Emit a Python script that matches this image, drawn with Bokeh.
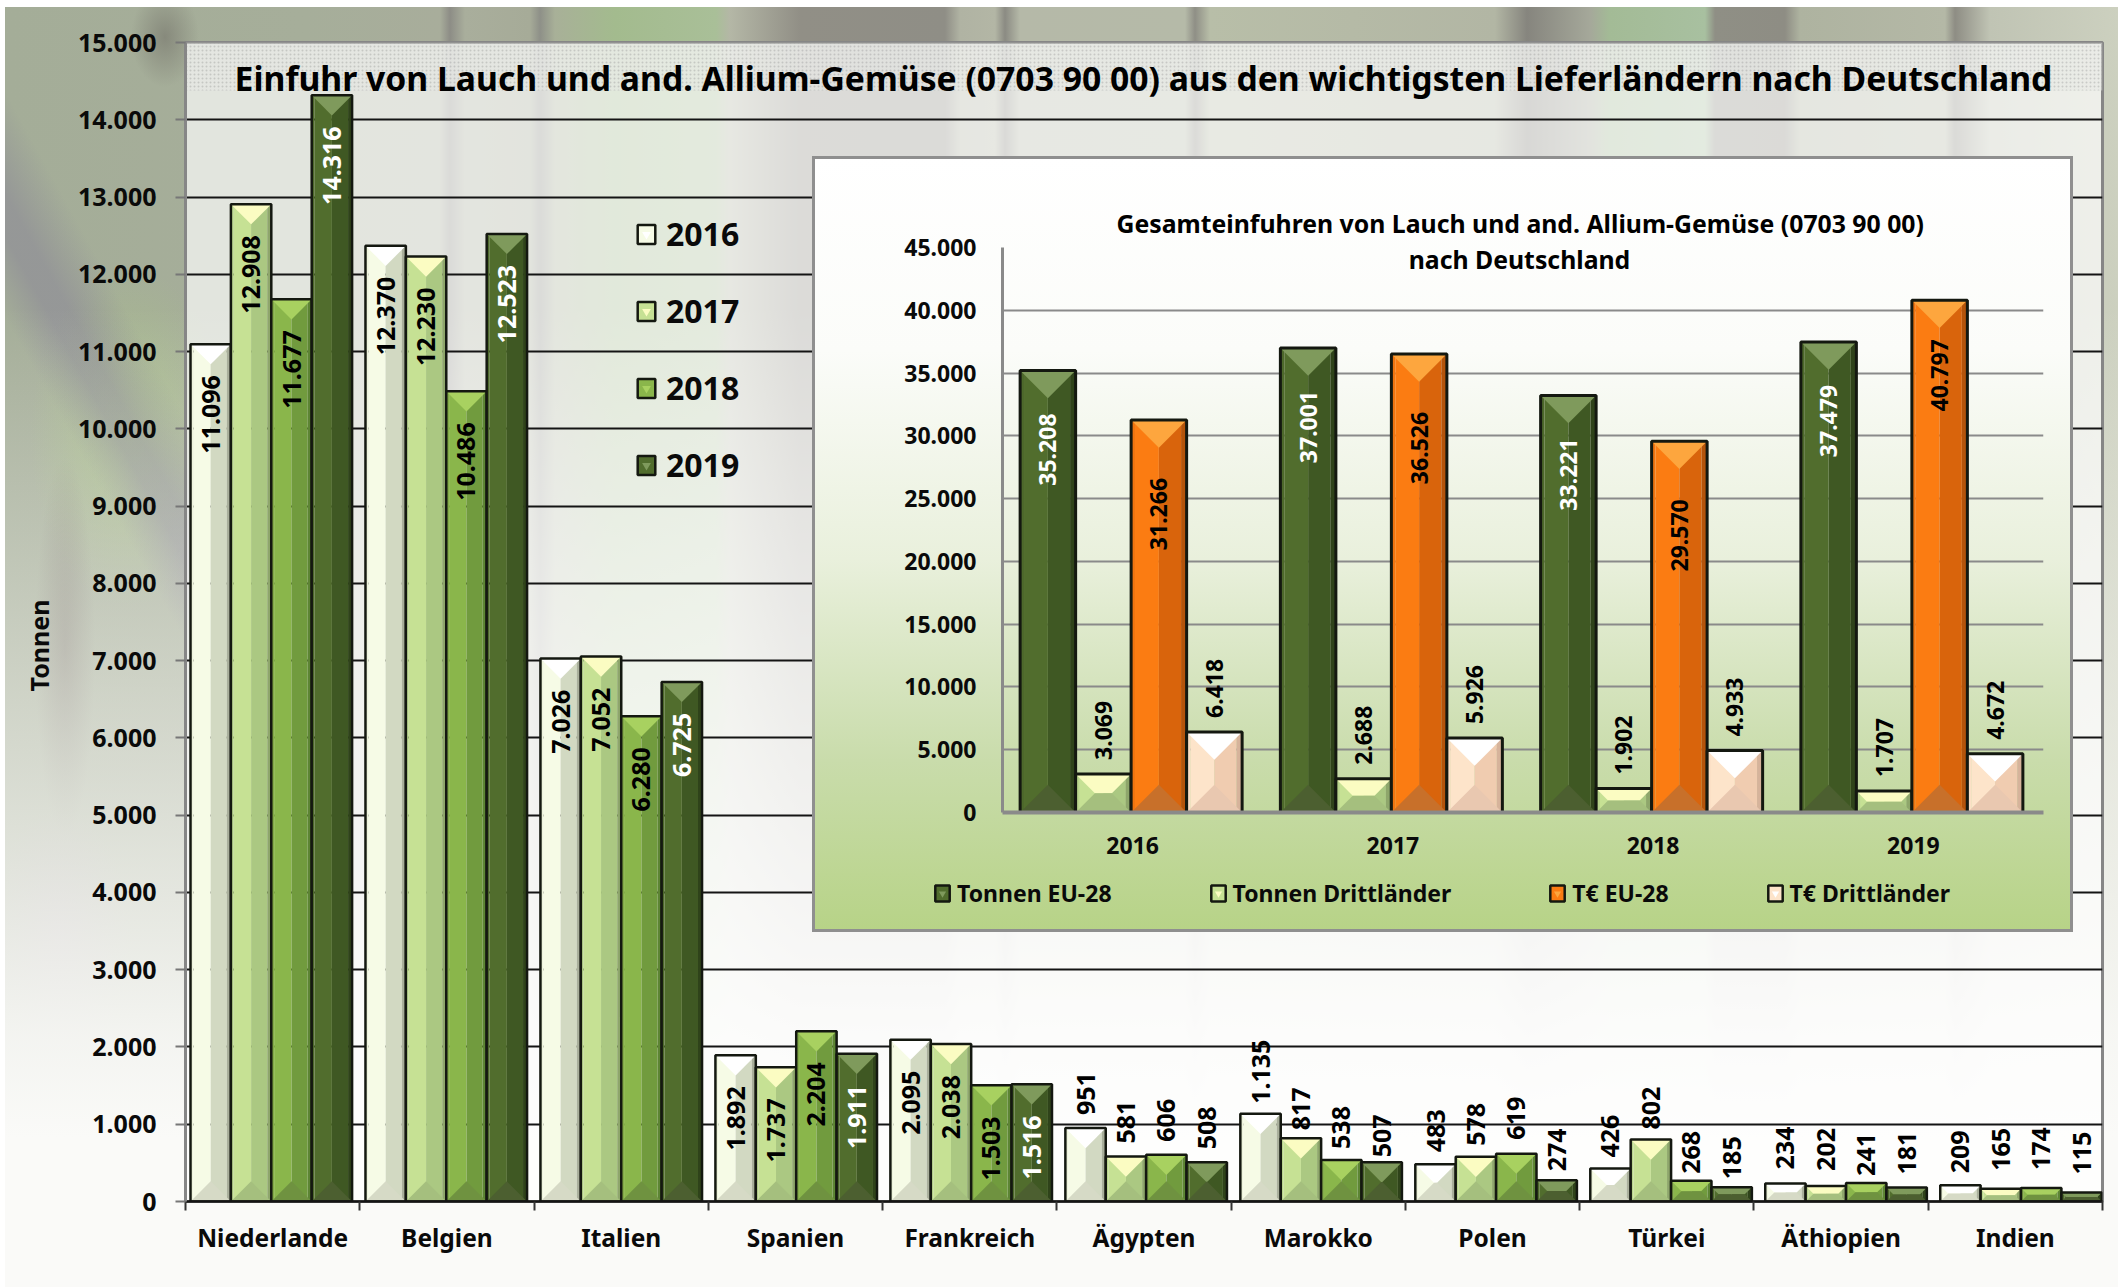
from bokeh.plotting import figure
from bokeh.layouts import column
from bokeh.embed import file_html
from bokeh.resources import INLINE
from bokeh.models import FixedTicker, Legend, LegendItem, Label, ColumnDataSource, Title
from bokeh.core.properties import value
import math

# ---------- data ----------
countries = ["Niederlande", "Belgien", "Italien", "Spanien", "Frankreich", "Ägypten",
             "Marokko", "Polen", "Türkei", "Äthiopien", "Indien"]
y2016 = [11096, 12370, 7026, 1892, 2095, 951, 1135, 483, 426, 234, 209]
y2017 = [12908, 12230, 7052, 1737, 2038, 581, 817, 578, 802, 202, 165]
y2018 = [11677, 10486, 6280, 2204, 1503, 606, 538, 619, 268, 241, 174]
y2019 = [14316, 12523, 6725, 1911, 1516, 508, 507, 274, 185, 181, 115]
years = ["2016", "2017", "2018", "2019"]
tonnen_eu = [35208, 37001, 33221, 37479]
tonnen_dritt = [3069, 2688, 1902, 1707]
teuro_eu = [31266, 36526, 29570, 40797]
teuro_dritt = [6418, 5926, 4933, 4672]
main_title = "Einfuhr von Lauch und and. Allium-Gemüse (0703 90 00) aus den wichtigsten Lieferländern nach Deutschland"
inset_title = ["Gesamteinfuhren von Lauch und and. Allium-Gemüse (0703 90 00)", "nach Deutschland"]

# ---------- styles: edgeL, left, right, edgeR, top, bottom ----------
PAL = {
    "2016": ("#eef4dc", "#f6fbe6", "#d2d9c2", "#a9af9b", "#ffffff", "#d6dac6"),
    "2017": ("#b9d58c", "#c6e194", "#abc882", "#8ea66b", "#fbfcc2", "#a5bf7e"),
    "2018": ("#83aa47", "#8ab64b", "#719b3e", "#5d8534", "#a8d160", "#6f9240"),
    "2019": ("#4d682b", "#516d2d", "#3f5823", "#2f431a", "#7f9a5c", "#4c5f30"),
    "oe":   ("#f07510", "#fb7c12", "#d9640c", "#b4540b", "#fda63e", "#c8702a"),
    "od":   ("#fbe0c6", "#fde4ca", "#f0ccb0", "#d6b39b", "#ffffff", "#e9c8b0"),
}
FONT = "Noto Sans"
OUT = "#141810"
GRID_I = "#8a8a8a"
# gap in pixels between a short bar and its label
LABEL_GAP = {951: 13, 581: 13, 606: 13, 508: 13, 1135: 10, 817: 8, 538: 11, 507: 5, 483: 12, 578: 11, 619: 14,
             274: 9, 426: 11, 802: 10, 268: 7, 185: 8, 234: 14, 202: 15, 241: 7, 181: 13, 209: 12, 165: 18,
             174: 18, 115: 18}


def de(v):
    return f"{v:,}".replace(",", ".")


def draw_bars(p, xs, vals, w_u, pal, per_px_x, per_px_y, line_w=2.5):
    """Bevelled bars. xs are left edges (data), vals heights (data)."""
    c = PAL[pal]
    w_px = w_u / per_px_x
    stops = [(0, .07, c[0]), (.07, .5, c[1]), (.5, .9, c[2]), (.9, 1, c[3])]
    body = None
    for i, (a, b, col) in enumerate(stops):
        r = p.quad(left=[x + a * w_u for x in xs], right=[x + b * w_u for x in xs],
                   bottom=[0] * len(xs), top=vals, fill_color=col, line_color=None)
        if i == 1:
            body = r
    tx, ty, bx, by = [], [], [], []
    for x, v in zip(xs, vals):
        h_px = v / per_px_y
        d = min(w_px / 2, h_px / 2)
        dx, dy = d * per_px_x, d * per_px_y
        tx.append([x, x + w_u, x + w_u - dx, x + dx])
        ty.append([v, v, v - dy, v - dy])
        bx.append([x, x + w_u, x + w_u - dx, x + dx])
        by.append([0, 0, dy, dy])
    p.patches(tx, ty, fill_color=c[4], line_color=None)
    p.patches(bx, by, fill_color=c[5], line_color=None)
    outline = p.quad(left=xs, right=[x + w_u for x in xs], bottom=[0] * len(xs), top=vals,
                     fill_color=None, line_color=OUT, line_width=line_w)
    tri = p.scatter(x=xs, y=vals, size=0.01, marker="inverted_triangle", fill_color=c[4], line_color=None)
    return [body, outline, tri]


# ---------- main chart ----------
W, H = 2118, 1287
L, R, T, B = 185, 2102, 42, 1201       # frame in page pixels
px_x = len(countries) / (R - L)
px_y = 15000 / (B - T)

bg = ("linear-gradient(to bottom, rgba(250,250,246,0) 0px, rgba(250,250,246,0) 300px, "
      "rgba(248,248,244,.5) 680px, rgba(250,250,248,.92) 1030px, #fafaf8 1130px),"
      "linear-gradient(61deg, rgba(135,130,150,0) 470px, rgba(135,130,150,.5) 510px, rgba(135,130,150,.5) 530px, "
      "rgba(135,130,150,0) 580px),"
      "radial-gradient(ellipse 30px 190px at 60px 640px, rgba(120,110,105,.5), rgba(120,110,105,0)),"
      "radial-gradient(ellipse 70px 130px at 55px 930px, rgba(175,160,175,.5), rgba(175,160,175,0)),"
      "radial-gradient(ellipse 100px 170px at 125px 430px, rgba(172,205,125,.55), rgba(172,205,125,0)),"
      "radial-gradient(ellipse 34px 50px at 160px 30px, rgba(110,108,100,.55), rgba(110,108,100,0)),"
      "linear-gradient(90deg, #a4ad98 0px, #a6ae9a 300px, #a8ad9b 435px, #8d8d86 445px, "
      "#a9ae9c 460px, #a6ab98 525px, #8e9088 535px, #a8b098 550px, #a3bb8e 610px, #a9bf98 711px, #b4b7a6 725px, "
      "#918f86 795px, #8f8e86 940px, #b0b3a3 955px, #b3b6a5 990px, #8b8b83 1000px, #b5b9a8 1015px, #b5baa8 1180px, "
      "#8f8f86 1190px, #b8bea8 1205px, #b2b6a4 1490px, #86857e 1522px, #a5a89a 1585px, #a3bb96 1605px, #a8c0a0 1700px, "
      "#8f8f85 1710px, #8e8d84 1780px, #aeb3a0 1795px, #b4b8a6 1940px, #8e8d84 1950px, #c0c4b4 1985px, #ccd0bf 2113px)")

p = figure(frame_width=R - L, frame_height=B - T, x_range=(0, len(countries)), y_range=(0, 15000),
           output_backend="svg", toolbar_location=None, frame_align=False,
           min_border_left=L, min_border_right=W - R, min_border_top=T, min_border_bottom=H - B)
p.styles = {"background": bg, "background-repeat": "no-repeat", "background-position": "right bottom",
            "background-size": "2113px 1280px"}
p.border_fill_alpha = 0
p.background_fill_color = "#ffffff"
p.background_fill_alpha = 0.68
p.outline_line_color = "#868686"
p.outline_line_width = 3

yticks = list(range(0, 15001, 1000))
ya = p.yaxis[0]
ya.ticker = FixedTicker(ticks=yticks)
ya.major_label_overrides = {t: de(t) for t in yticks}
ya.major_label_text_font = FONT
ya.major_label_text_font_style = "bold"
ya.major_label_text_font_size = "25px"
ya.major_label_text_color = "#0a0a0a"
ya.major_label_standoff = 19
ya.major_tick_out = 10
ya.major_tick_in = 0
ya.major_tick_line_color = "#777777"
ya.major_tick_line_width = 2
ya.minor_tick_out = 0
ya.minor_tick_in = 0
ya.axis_line_color = "#868686"
ya.axis_line_width = 3

# the unit label sits a little below the middle of the axis
p.add_layout(Title(text="Tonnen", align="left", offset=510, standoff=37, text_font=FONT, text_font_style="bold",
                   text_font_size="25px", text_color="#0a0a0a"), "left")

xa = p.xaxis[0]
centers = [i + .5 for i in range(len(countries))]
xa.ticker = FixedTicker(ticks=centers, minor_ticks=list(range(len(countries) + 1)))
xa.major_label_overrides = {c: n for c, n in zip(centers, countries)}
xa.major_label_text_font = FONT
xa.major_label_text_font_style = "bold"
xa.major_label_text_font_size = "24.5px"
xa.major_label_text_color = "#0a0a0a"
xa.major_label_standoff = 10
xa.major_tick_out = 0
xa.major_tick_in = 0
xa.minor_tick_out = 9
xa.minor_tick_in = 0
xa.minor_tick_line_color = "#333333"
xa.minor_tick_line_width = 2
xa.axis_line_color = "#141414"
xa.axis_line_width = 2.5

p.xgrid.visible = False
p.ygrid.grid_line_color = "#141414"
p.ygrid.grid_line_width = 2

# dotted strip behind the title
p.quad(left=[0], right=[len(countries)], bottom=[15000 - 48 * px_y], top=[15000], fill_color="#e6e7e3",
       fill_alpha=.5, line_color=None, hatch_pattern="dot", hatch_color="#8c8c8c", hatch_alpha=.35,
       hatch_scale=4, hatch_weight=1, level="underlay")

w_u = 40.4 * px_x
series = [("2016", y2016), ("2017", y2017), ("2018", y2018), ("2019", y2019)]
items = []
inx, iny, int_, inc = [], [], [], []     # labels inside the bars (anchored at their upper end)
upx, upy, upt = [], [], []               # labels above the bars (anchored at their lower end)
for k, (name, vals) in enumerate(series):
    xs = [i + (5 + .7 * i) * px_x + k * w_u for i in range(len(vals))]
    rs = draw_bars(p, xs, vals, w_u, name, px_x, px_y)
    items.append(LegendItem(label=name, renderers=rs))
    for x, v in zip(xs, vals):
        h = v / px_y
        if v >= 1200:
            inx.append(x + w_u / 2); iny.append(max(h - 31, 84) * px_y); int_.append(de(v))
            inc.append("#ffffff" if name == "2019" else "#000000")
        else:
            upx.append(x + w_u / 2); upy.append((h + LABEL_GAP[v]) * px_y); upt.append(de(v))
p.text(x="x", y="y", text="t", source=ColumnDataSource(dict(x=inx, y=iny, t=int_, c=inc)),
       angle=math.pi / 2, text_align="right", text_baseline="middle", text_color="c",
       text_font=value(FONT), text_font_style="bold", text_font_size="25px")
p.text(x=upx, y=upy, text=upt, angle=math.pi / 2, text_align="left", text_baseline="middle",
       text_color="#000000", text_font=value(FONT), text_font_style="bold", text_font_size="25px")

leg = Legend(items=items, location=(450, 715), orientation="vertical", spacing=34, padding=0, margin=0,
             glyph_width=22, glyph_height=24, label_standoff=9, background_fill_alpha=0,
             border_line_color=None, label_text_font=FONT, label_text_font_style="bold",
             label_text_font_size="32px", label_text_color="#0a0a0a")
p.add_layout(leg, "center")
p.add_layout(Label(x=(1143 - L) * px_x, y=(B - 77) * px_y, text=main_title, text_align="center",
                   text_baseline="middle", text_font=FONT, text_font_style="bold", text_font_size="33.7px",
                   text_color="#000000"))

# ---------- inset chart ----------
iW, iH = 1259, 774
iL, iR, iT, iB = 1002, 2043, 247, 812      # plotting area in page pixels
iX0, iY0 = 813, 157
ipx_x = 4 / (iR - iL)
ipx_y = 45000 / (iB - iT)

q = figure(width=iW, height=iH, x_range=(0, 4), y_range=(0, 45000), output_backend="svg", toolbar_location=None,
           frame_align=False, min_border_left=iL - iX0, min_border_right=iX0 + iW - iR,
           min_border_top=iT - iY0, min_border_bottom=iY0 + iH - iB)
q.styles = {"background": "linear-gradient(to bottom, #ffffff 0%, #fbfcf9 25%, #e9f0dc 52%, #c9dcab 78%, #b7d387 100%)",
            "outline": "3px solid #8f8f8f", "outline-offset": "-2px"}
q.margin = (iY0 - H, 0, 0, iX0)
q.border_fill_alpha = 0
q.background_fill_alpha = 0
q.outline_line_color = None
q.title = Title(text=inset_title[0], align="left", offset=114, standoff=15, text_font=FONT, text_font_style="bold",
                text_font_size="24.8px", text_color="#000000")

iticks = list(range(0, 45001, 5000))
a = q.yaxis[0]
a.ticker = FixedTicker(ticks=iticks)
a.major_label_overrides = {t: de(t) for t in iticks}
a.major_label_text_font = FONT
a.major_label_text_font_style = "bold"
a.major_label_text_font_size = "23px"
a.major_label_text_color = "#0a0a0a"
a.major_label_standoff = 26
a.major_tick_out = 0
a.major_tick_in = 0
a.minor_tick_out = 0
a.minor_tick_in = 0
a.axis_line_color = "#8a8a8a"
a.axis_line_width = 3

b = q.xaxis[0]
icenters = [i + .5 for i in range(len(years))]
b.ticker = FixedTicker(ticks=icenters)
b.major_label_overrides = {c: n for c, n in zip(icenters, years)}
b.major_label_text_font = FONT
b.major_label_text_font_style = "bold"
b.major_label_text_font_size = "23px"
b.major_label_text_color = "#0a0a0a"
b.major_label_standoff = 24
b.major_tick_out = 0
b.major_tick_in = 0
b.minor_tick_out = 0
b.minor_tick_in = 0
b.axis_line_color = "#8a8a8a"
b.axis_line_width = 4

q.xgrid.visible = False
q.ygrid.grid_line_color = GRID_I
q.ygrid.grid_line_width = 2

iw_u = 55.5 * ipx_x
iseries = [("Tonnen EU-28", tonnen_eu, "2019"), ("Tonnen Drittländer", tonnen_dritt, "2017"),
           ("T€ EU-28", teuro_eu, "oe"), ("T€ Drittländer", teuro_dritt, "od")]
ix, iy, it, ic = [], [], [], []
ux, uy, ut = [], [], []
for k, (name, vals, pal) in enumerate(iseries):
    xs = [i + .5 - 1.5 * ipx_x + (k - 2) * iw_u for i in range(len(vals))]
    draw_bars(q, xs, vals, iw_u, pal, ipx_x, ipx_y, line_w=3)
    for x, v in zip(xs, vals):
        h = v / ipx_y
        if v >= 10000:
            off = 43
            if pal == "oe":
                off = 39 if v > 40000 else 58
            ix.append(x + iw_u / 2); iy.append((h - off) * ipx_y); it.append(de(v))
            ic.append("#ffffff" if pal == "2019" else "#000000")
        else:
            ux.append(x + iw_u / 2); uy.append((h + 14) * ipx_y); ut.append(de(v))
q.text(x="x", y="y", text="t", source=ColumnDataSource(dict(x=ix, y=iy, t=it, c=ic)),
       angle=math.pi / 2, text_align="right", text_baseline="middle", text_color="c",
       text_font=value(FONT), text_font_style="bold", text_font_size="23px")
q.text(x=ux, y=uy, text=ut, angle=math.pi / 2, text_align="left", text_baseline="middle",
       text_color="#000000", text_font=value(FONT), text_font_style="bold", text_font_size="23px")
q.add_layout(Label(x=(1519 - iL) * ipx_x, y=(iB - 258) * ipx_y, text=inset_title[1], text_align="center",
                   text_baseline="middle", text_font=FONT, text_font_style="bold", text_font_size="24.8px",
                   text_color="#000000"))

# ---------- inset legend: a transparent strip on top of the inset panel ----------
sX0, sY0, sW, sH = iX0 + 4, 868, iW - 8, 55
r = figure(width=sW, height=sH, x_range=(-9, -8), y_range=(-9, -8), output_backend="svg", toolbar_location=None,
           x_axis_location=None, y_axis_location=None, frame_align=False,
           min_border_left=0, min_border_right=0, min_border_top=0, min_border_bottom=0)
r.margin = (sY0 - (iY0 + iH), 0, 0, sX0)
r.border_fill_alpha = 0
r.background_fill_alpha = 0
r.outline_line_color = None
r.grid.visible = False
ritems = []
for name, vals, pal in iseries:
    # the same bars, out of this strip's ranges: only their legend keys show
    rs = draw_bars(r, [0] * len(vals), vals, 1, pal, 1, 1, line_w=2.5)
    ritems.append(LegendItem(label=name, renderers=rs))
ileg = Legend(items=ritems, location=(933 - sX0, sY0 + sH - 909), orientation="horizontal", spacing=97, padding=0,
              margin=0, glyph_width=18, glyph_height=20, label_standoff=6, background_fill_alpha=0,
              border_line_color=None, label_text_font=FONT, label_text_font_style="bold",
              label_text_font_size="23px", label_text_color="#0a0a0a")
r.add_layout(ileg, "center")

page = column(p, q, r)
open("out.html", "w").write(file_html(page, INLINE))
